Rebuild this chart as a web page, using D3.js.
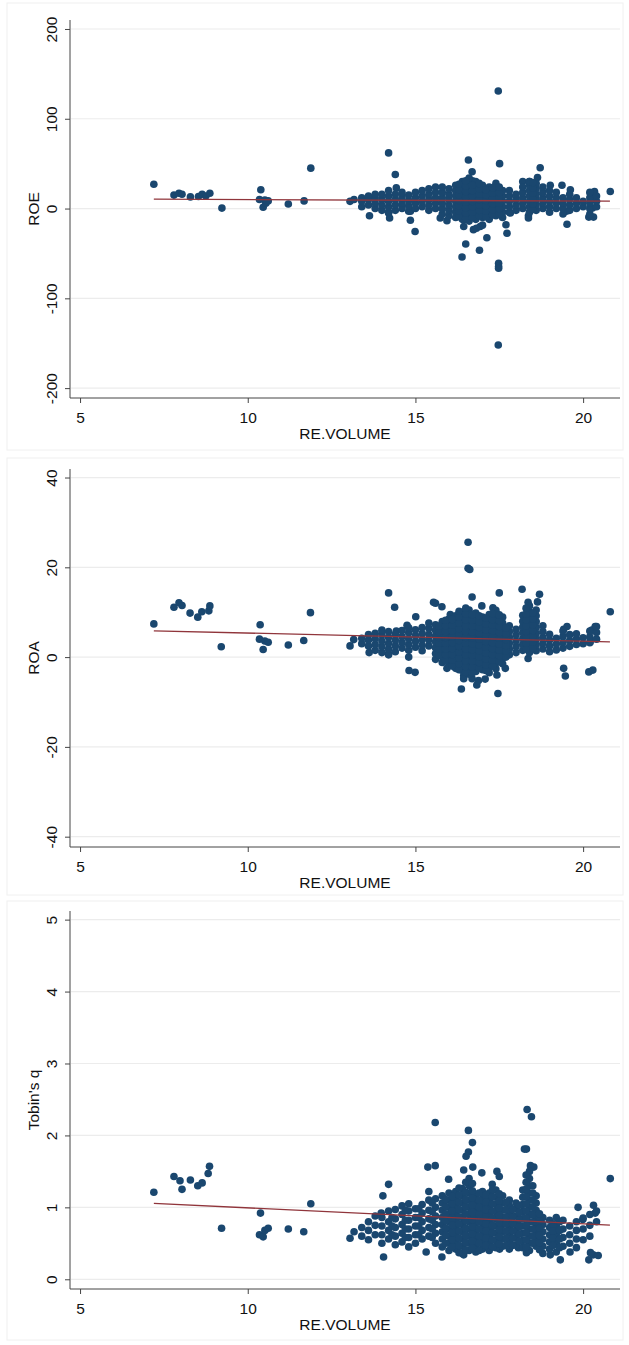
<!DOCTYPE html>
<html>
<head>
<meta charset="utf-8">
<style>
  html, body { margin: 0; padding: 0; background: #fff; }
  svg { display: block; font-family: "Liberation Sans", Arial, sans-serif; }
</style>
</head>
<body>
<svg id="chart" width="629" height="1345"></svg>
<script src="https://cdn.jsdelivr.net/npm/d3@7"></script>
<script>

// x axis shared by the three panels
var xTicks = [5, 10, 15, 20]
var xTitle = 'RE.VOLUME'

// ---- ROE ----
var roeTicks = [-200, -100, 0, 100, 200]
var roeOut = [
  [7.20,27],[7.80,15],[7.95,17],[8.04,16],[8.29,13],[8.53,13.5],[8.64,16],[8.75,14],[8.87,17],
  [9.23,0.5],[10.39,21],[10.35,10],[10.46,1.5],[10.51,9.5],[10.61,8.5],[10.54,6],[11.21,5],
  [11.68,8.5],[11.88,45],[13.05,8],[13.17,10],[13.63,-8],[14.2,62],[14.4,38],[14.43,23],
  [14.23,-10.5],[14.2,-5],[14.85,-3],[14.85,-13],[14.99,-25.5],[15.74,-10.5],[15.94,-13.5],
  [16.58,54],[16.69,41],[16.7,31],[16.5,-39.5],[16.39,-54],[16.44,-20],[16.44,-12.5],
  [16.73,-23.5],[16.93,-20],[17.0,-18.5],[16.82,-22],[16.91,-46.5],[17.13,-32.5],[17.47,131],
  [17.51,50],[17.48,-61],[17.48,-64.5],[17.48,-66.5],[17.47,-152],[17.7,-18],[17.73,-27.5],
  [17.83,-5],[18.37,-8],[18.37,-10.5],[18.72,45.5],[18.64,34.5],[18.2,30],[18.4,30],[19.02,26],
  [19.37,26],[19.62,21],[19.52,-17.5],[19.5,-3],[20.17,-9.5],[20.31,-9.5],[20.34,19],[20.3,13],
  [20.28,0.5],[20.81,19]
]
var roeCols = [
  [13.4,[2,8,12]],[13.6,[4,10,14]],[13.8,[0,6,12,16]],[14.0,[-2,4,10,16]],
  [14.2,[-4,2,8,14,20]],[14.4,[-2,4,10,16]],[14.6,[0,6,12,18]],[14.8,[-3,3,9,15]],
  [15.0,[0,6,12,18]],[15.2,[2,8,14,20]],[15.4,[-2,4,10,16,22]],[15.6,[0,6,12,18,24]],
  [15.8,[-6,0,6,12,18,24]],[16.0,[-8,-2,4,10,16,22]],[16.2,[-10,-4,2,8,14,20,26]],
  [16.4,[-12,-6,0,6,12,18,24,30]],[16.6,[-14,-8,-2,4,10,16,22,28,34]],
  [16.8,[-12,-6,0,6,12,18,24,30]],[17.0,[-10,-4,2,8,14,20,26]],[17.2,[-12,-6,0,6,12,18,24]],
  [17.4,[-8,-2,4,10,16,22,28]],[17.6,[-10,-4,2,8,14,20]],[17.8,[-4,2,8,14,20]],
  [18.0,[-2,4,10,16]],[18.2,[0,6,12,18,24]],[18.4,[-4,2,8,14,20,26,30]],
  [18.6,[-2,4,10,16,22,28]],[18.8,[0,6,12,18,24]],[19.0,[-4,2,8,14,20]],
  [19.2,[0,6,12,18]],[19.4,[-6,0,6,12]],[19.6,[-2,4,10,16]],[19.8,[0,6,12]],
  [20.0,[2,8]],[20.2,[-6,0,6,12,18]],[20.4,[2,8,14]],
  [16.3,[-9,-3,3,9,15,21,27]],[16.5,[-11,-5,1,7,13,19,25,31]],[16.7,[-10,-4,2,8,14,20,26]],
  [16.9,[-8,-2,4,10,16,22,28]],[17.1,[-9,-3,3,9,15,21]],[17.3,[-7,-1,5,11,17,23]],
  [17.5,[-6,0,6,12,18,24]],[18.5,[-1,5,11,17,23,29]]
]
var roeFit = [[7.2,10.5],[20.8,8.2]]

// ---- ROA ----
var roaTicks = [-40, -20, 0, 20, 40]
var roaOut = [
  [7.2,7.4],[7.8,11.1],[7.95,12.1],[8.04,11.5],[8.28,9.8],[8.51,8.9],[8.63,10.1],[8.84,10.3],
  [8.87,11.4],[9.21,2.3],[10.37,7.2],[10.35,4],[10.46,1.7],[10.51,3.6],[10.61,3.3],[11.21,2.7],
  [11.67,3.7],[11.87,9.9],[13.05,2.5],[13.16,3.9],[13.62,1],[14.2,14.3],[14.38,11.1],
  [14.43,5.8],[14.75,7.1],[15.01,9],[14.8,0],[14.81,-3],[14.99,-3.4],[14.2,0.8],[15.54,12.2],
  [15.6,12],[15.79,11.2],[16.04,9.5],[15.94,-2.5],[16.57,25.6],[16.57,19.8],[16.62,19.5],
  [16.69,13.4],[16.98,11.4],[16.37,-7.1],[16.44,-4.1],[16.44,-4.8],[16.69,-4.8],[16.83,-6.2],
  [16.88,-5.2],[17.08,-4.9],[17.46,-8.1],[17.43,-4],[17.5,14.3],[17.31,11],[17.68,-2.5],
  [18.18,15.1],[18.7,14],[18.36,12.2],[18.64,12.3],[18.36,-0.3],[19.42,-2.5],[19.47,-4.2],
  [20.17,-3.3],[20.29,-2.9],[20.81,10.1],[20.36,6.8],[20.26,6],[19.42,6.2],[19.52,6.8],[20.21,3.4]
]
var roaCols = [
  [13.4,[3,4.2]],[13.6,[2.5,3.8,5]],[13.8,[1.5,2.8,4.1,5.3]],[14.0,[1,2.3,3.6,4.9,6]],
  [14.2,[0.5,1.8,3.1,4.4,5.7]],[14.4,[1.2,2.5,3.8,5.1]],[14.6,[2,3.3,4.6,5.9]],
  [14.8,[1.5,2.8,4.1,5.4,6.5]],[15.0,[2.2,3.5,4.8,6.1]],[15.2,[1.4,2.7,4,5.3,6.6]],
  [15.4,[2.5,3.8,5.1,6.4,7.6]],[15.6,[-0.5,0.8,2.1,3.4,4.7,6,7.2]],
  [15.8,[-1.2,0.1,1.4,2.7,4,5.3,6.6,7.9]],[16.0,[-1.8,-0.5,0.8,2.1,3.4,4.7,6,7.3,8.5]],
  [16.2,[-2.5,-1.2,0.1,1.4,2.7,4,5.3,6.6,7.9,9.2]],
  [16.4,[-3,-1.7,-0.4,0.9,2.2,3.5,4.8,6.1,7.4,8.7,10]],
  [16.6,[-3.8,-2.5,-1.2,0.1,1.4,2.7,4,5.3,6.6,7.9,9.2,10.5]],
  [16.8,[-3.2,-1.9,-0.6,0.7,2,3.3,4.6,5.9,7.2,8.5,9.8]],
  [17.0,[-2.8,-1.5,-0.2,1.1,2.4,3.7,5,6.3,7.6,8.9]],
  [17.2,[-3.5,-2.2,-0.9,0.4,1.7,3,4.3,5.6,6.9,8.2,9.5]],
  [17.4,[-2.6,-1.3,0,1.3,2.6,3.9,5.2,6.5,7.8,9.1,10.4]],
  [17.6,[-1.5,-0.2,1.1,2.4,3.7,5,6.3,7.6,8.9]],[17.8,[0.5,1.8,3.1,4.4,5.7,7]],
  [18.0,[1,2.3,3.6,4.9,6.2]],[18.2,[1.5,2.8,4.1,5.4,6.7,8,9.3]],
  [18.4,[1,2.3,3.6,4.9,6.2,7.5,8.8,10.1,11.4]],[18.6,[1.4,2.7,4,5.3,6.6,7.9,9.2,10.5]],
  [18.8,[1.8,3.1,4.4,5.7,7]],[19.0,[1.2,2.5,3.8,5.1]],[19.2,[1.6,2.9,4.2]],
  [19.4,[2,3.3,4.6,5.8]],[19.6,[2.4,3.7,5]],[19.8,[2.8,4.1,5.2]],[20.0,[3,4.3]],
  [20.2,[3.2,4.5,5.8]],[20.4,[4,5.5,6.8]],
  [15.7,[0.5,1.8,3.1,4.4,5.7,6.9]],[15.9,[-0.8,0.5,1.8,3.1,4.4,5.7,7,8.2]],
  [16.1,[-2,-0.7,0.6,1.9,3.2,4.5,5.8,7.1,8.4]],
  [16.3,[-2.8,-1.5,-0.2,1.1,2.4,3.7,5,6.3,7.6,8.9,10.2]],
  [16.5,[-3.4,-2.1,-0.8,0.5,1.8,3.1,4.4,5.7,7,8.3,9.6,10.9]],
  [16.7,[-3.5,-2.2,-0.9,0.4,1.7,3,4.3,5.6,6.9,8.2,9.5]],
  [16.9,[-2.5,-1.2,0.1,1.4,2.7,4,5.3,6.6,7.9,9.2]],
  [17.1,[-3,-1.7,-0.4,0.9,2.2,3.5,4.8,6.1,7.4,8.7]],
  [17.3,[-2,-0.7,0.6,1.9,3.2,4.5,5.8,7.1,8.4,9.7]],
  [17.5,[-1,0.3,1.6,2.9,4.2,5.5,6.8,8.1,9.4]],[17.7,[0,1.3,2.6,3.9,5.2,6.5]],
  [18.3,[1.8,3.1,4.4,5.7,7,8.3,9.6,10.9]],[18.5,[2,3.3,4.6,5.9,7.2,8.5,9.8]]
]
var roaFit = [[7.2,5.86],[20.8,3.4]]

// ---- Tobin's q ----
var tobinTicks = [0, 1, 2, 3, 4, 5]
var tobinOut = [
  [7.2,1.21],[7.8,1.43],[7.98,1.37],[8.04,1.25],[8.29,1.38],[8.51,1.3],[8.64,1.34],[8.82,1.47],
  [8.86,1.57],[9.22,0.71],[10.38,0.92],[10.35,0.62],[10.46,0.59],[10.51,0.68],[10.61,0.71],
  [11.21,0.7],[11.67,0.66],[11.88,1.05],[13.05,0.57],[13.17,0.66],[14.05,0.31],[14.03,1.16],
  [14.2,1.32],[13.98,0.92],[15.59,2.18],[15.37,1.56],[15.59,1.58],[15.79,0.31],[15.32,0.38],
  [15.99,1.39],[16.58,2.07],[16.7,1.9],[16.58,1.77],[16.51,1.71],[16.44,1.52],[16.71,1.56],
  [16.98,1.48],[17.43,1.5],[17.5,1.43],[17.29,1.32],[18.33,2.36],[18.46,2.26],[18.25,1.81],
  [18.31,1.81],[18.43,1.58],[18.53,1.56],[20.81,1.4],[19.85,1.0],[20.31,1.03],[20.36,0.92],
  [19.99,0.83],[20.17,0.27],[20.3,0.34],[20.45,0.33],[20.22,0.37],[19.02,0.34],[19.32,0.27],
  [19.61,0.38],[16.44,0.34],[18.07,0.44],[18.31,0.37],[17.51,0.42],[16.76,0.42]
]
var tobinCols = [
  [13.4,[0.6,0.72]],[13.6,[0.55,0.68,0.8]],[13.8,[0.62,0.75,0.88]],[14.0,[0.5,0.62,0.74,0.86]],
  [14.2,[0.56,0.68,0.8,0.95]],[14.4,[0.48,0.6,0.72,0.84,0.97]],[14.6,[0.52,0.64,0.76,0.9,1.02]],
  [14.8,[0.45,0.58,0.7,0.82,0.95,1.05]],[15.0,[0.5,0.62,0.74,0.86,0.98]],
  [15.2,[0.56,0.68,0.8,0.92,1.04]],[15.4,[0.6,0.72,0.84,0.96,1.1,1.22]],
  [15.6,[0.5,0.64,0.76,0.88,1.0,1.12]],[15.8,[0.45,0.56,0.66,0.76,0.86,0.96,1.06,1.16]],
  [16.0,[0.4,0.5,0.6,0.7,0.8,0.9,1.0,1.1,1.2]],[16.2,[0.42,0.52,0.62,0.72,0.82,0.92,1.02,1.12,1.22]],
  [16.4,[0.36,0.46,0.56,0.66,0.76,0.86,0.96,1.06,1.16,1.26]],
  [16.6,[0.4,0.5,0.6,0.7,0.8,0.9,1.0,1.1,1.2,1.3,1.4]],
  [16.8,[0.38,0.48,0.58,0.68,0.78,0.88,0.98,1.08,1.18]],
  [17.0,[0.42,0.52,0.62,0.72,0.82,0.92,1.02,1.12,1.22]],
  [17.2,[0.4,0.5,0.6,0.7,0.8,0.9,1.0,1.1,1.2]],
  [17.4,[0.44,0.54,0.64,0.74,0.84,0.94,1.04,1.14,1.24]],
  [17.6,[0.46,0.56,0.66,0.76,0.86,0.96,1.06,1.16]],
  [17.8,[0.42,0.52,0.62,0.72,0.82,0.92,1.02,1.1]],[18.0,[0.48,0.58,0.68,0.78,0.88,0.98,1.06]],
  [18.2,[0.44,0.54,0.64,0.74,0.84,0.94,1.04,1.14,1.24]],
  [18.4,[0.4,0.5,0.6,0.7,0.8,0.9,1.0,1.1,1.2,1.3,1.4,1.5]],
  [18.6,[0.46,0.56,0.66,0.76,0.86,0.96,1.06,1.16]],[18.8,[0.36,0.46,0.56,0.66,0.76,0.86]],
  [19.0,[0.42,0.52,0.62,0.72,0.82]],[19.2,[0.38,0.5,0.62,0.74,0.86]],[19.4,[0.46,0.58,0.7,0.82]],
  [19.6,[0.5,0.62,0.74]],[19.8,[0.44,0.56,0.68,0.8]],[20.0,[0.55,0.7,0.85]],
  [20.2,[0.6,0.75,0.9]],[20.4,[0.8,0.95]],
  [14.3,[0.62,0.74,0.86]],[14.7,[0.58,0.7,0.82,0.96]],[15.1,[0.62,0.74,0.86,0.98]],
  [15.5,[0.58,0.7,0.82,0.94,1.06]],[15.9,[0.5,0.61,0.71,0.81,0.91,1.01,1.11]],
  [16.1,[0.45,0.55,0.65,0.75,0.85,0.95,1.05,1.15]],
  [16.3,[0.37,0.47,0.57,0.67,0.77,0.87,0.97,1.07,1.17,1.27]],
  [16.5,[0.41,0.51,0.61,0.71,0.81,0.91,1.01,1.11,1.21,1.35]],
  [16.7,[0.43,0.53,0.63,0.73,0.83,0.93,1.03,1.13,1.23,1.33]],
  [16.9,[0.4,0.5,0.6,0.7,0.8,0.9,1.0,1.1,1.2]],
  [17.1,[0.47,0.57,0.67,0.77,0.87,0.97,1.07,1.17]],
  [17.3,[0.45,0.55,0.65,0.75,0.85,0.95,1.05,1.15,1.25]],
  [17.5,[0.49,0.59,0.69,0.79,0.89,0.99,1.09,1.19]],
  [17.7,[0.47,0.57,0.67,0.77,0.87,0.97,1.07]],[17.9,[0.47,0.57,0.67,0.77,0.87,0.97]],
  [18.1,[0.53,0.63,0.73,0.83,0.93,1.03]],
  [18.3,[0.45,0.55,0.65,0.75,0.85,0.95,1.05,1.15,1.25,1.35,1.45]],
  [18.5,[0.5,0.6,0.7,0.8,0.9,1.0,1.1,1.2,1.3]],[18.7,[0.41,0.51,0.61,0.71,0.81,0.91]],
  [19.1,[0.47,0.57,0.67,0.77]],[19.3,[0.44,0.56,0.68,0.8]]
]
var tobinFit = [[7.2,1.055],[20.8,0.754]]


// layout
var cfg = {
  left: 70, right: 620,
  xDomain: [4.7, 21.1],
  dot: 3.8,
  font: 15.5,
  navy: '#1a476f',
  maroon: '#90353b',
  grid: '#ececec',
  axis: '#444'
}

function flatten(cols, outs) {
  var pts = outs.slice()
  cols.forEach(function(c) {
    c[1].forEach(function(y) { pts.push([c[0], y]) })
  })
  return pts
}

var panels = [
  { title: 'ROE', top: 20, bottom: 398, yDomain: [-211, 210], ticks: roeTicks,
    pts: flatten(roeCols, roeOut), fit: roeFit, frame: [3, 450] },
  { title: 'ROA', top: 469, bottom: 847, yDomain: [-42.3, 41.9], ticks: roaTicks,
    pts: flatten(roaCols, roaOut), fit: roaFit, frame: [458, 895] },
  { title: "Tobin's q", top: 911, bottom: 1289, yDomain: [-0.135, 5.12], ticks: tobinTicks,
    pts: flatten(tobinCols, tobinOut), fit: tobinFit, frame: [901, 1340] }
]

var svg = d3.select('#chart')

var x = d3.scaleLinear().domain(cfg.xDomain).range([cfg.left, cfg.right])

panels.forEach(function(p) {
  var g = svg.append('g')
  var y = d3.scaleLinear().domain(p.yDomain).range([p.bottom, p.top])

  // faint outer frame
  g.append('rect')
    .attr('x', 7).attr('y', p.frame[0])
    .attr('width', 616).attr('height', p.frame[1] - p.frame[0])
    .attr('fill', 'none').attr('stroke', '#f0f0f0')

  // gridlines
  g.selectAll('.grid').data(p.ticks).enter().append('line')
    .attr('x1', cfg.left + 1).attr('x2', cfg.right)
    .attr('y1', function(d) { return y(d) }).attr('y2', function(d) { return y(d) })
    .attr('stroke', cfg.grid).attr('stroke-width', 1.2)

  // dots
  g.selectAll('.dot').data(p.pts).enter().append('circle')
    .attr('cx', function(d) { return x(d[0]) })
    .attr('cy', function(d) { return y(d[1]) })
    .attr('r', cfg.dot)
    .attr('fill', cfg.navy)

  // fitted line
  g.append('path')
    .attr('d', d3.line().x(function(d) { return x(d[0]) }).y(function(d) { return y(d[1]) })(p.fit))
    .attr('fill', 'none').attr('stroke', cfg.maroon).attr('stroke-width', 1.3)

  // y axis
  var ya = g.append('g').attr('transform', 'translate(' + cfg.left + ',0)')
    .call(d3.axisLeft(y).tickValues(p.ticks).tickSize(5).tickFormat(function(d) { return String(d) }))
  ya.select('.domain').attr('d', 'M0,' + p.top + 'V' + p.bottom).attr('stroke', cfg.axis)
  ya.selectAll('.tick line').attr('stroke', cfg.axis)
  ya.selectAll('.tick text')
    .attr('transform', 'rotate(-90)')
    .attr('x', 0).attr('y', -13).attr('dy', 0)
    .attr('text-anchor', 'middle')
    .attr('font-size', cfg.font).attr('fill', '#111')
  ya.attr('font-family', null)

  // x axis
  var xa = g.append('g').attr('transform', 'translate(0,' + p.bottom + ')')
    .call(d3.axisBottom(x).tickValues(xTicks).tickSize(5))
  xa.select('.domain').attr('d', 'M' + cfg.left + ',0H' + cfg.right).attr('stroke', cfg.axis)
  xa.selectAll('.tick line').attr('stroke', cfg.axis)
  xa.selectAll('.tick text')
    .attr('y', 25).attr('dy', 0)
    .attr('font-size', cfg.font).attr('fill', '#111')
  xa.attr('font-family', null)

  // axis titles
  g.append('text')
    .attr('transform', 'translate(39,' + ((p.top + p.bottom) / 2) + ') rotate(-90)')
    .attr('text-anchor', 'middle')
    .attr('font-size', cfg.font).attr('fill', '#111')
    .text(p.title)
  g.append('text')
    .attr('x', (cfg.left + cfg.right) / 2).attr('y', p.bottom + 40.5)
    .attr('text-anchor', 'middle')
    .attr('font-size', cfg.font).attr('fill', '#111')
    .text(xTitle)
})

</script>
</body>
</html>
